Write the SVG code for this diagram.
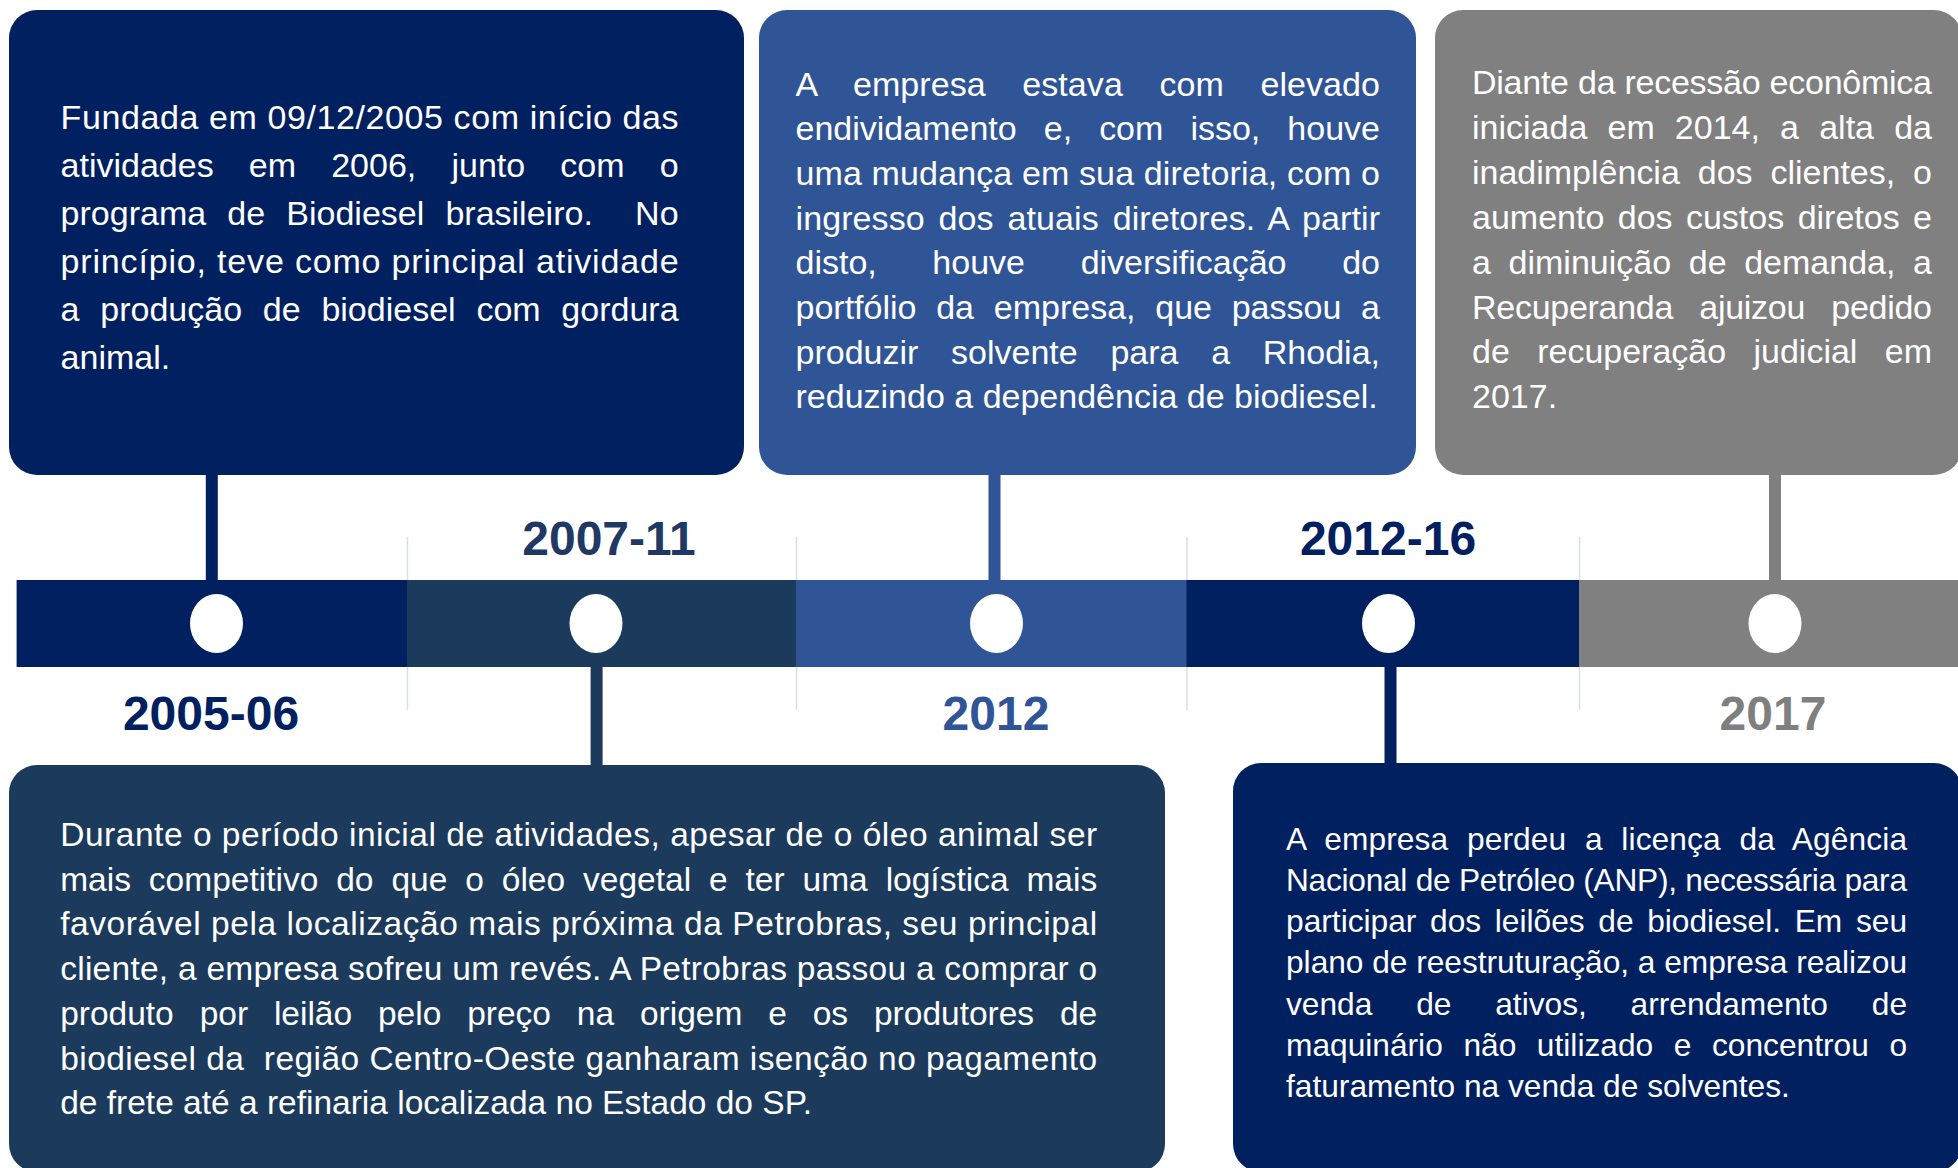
<svg xmlns="http://www.w3.org/2000/svg" width="1958" height="1168" viewBox="0 0 1958 1168">
<style>
.t{font-family:"Liberation Sans",Arial,sans-serif;font-size:34px;fill:#ffffff}
.t4{font-size:33.5px}
.t5{font-size:31.7px}
.yr{font-family:"Liberation Sans",Arial,sans-serif;font-size:48px;font-weight:bold;text-anchor:middle}
.grid{stroke:#D9DCEA;stroke-width:1.5}
.dot{fill:#ffffff}
.stem{stroke-width:12;fill:none}
</style>
<rect width="1958" height="1168" fill="#ffffff"/>

<g id="timeline">
  <line class="grid" x1="407.5" y1="537" x2="407.5" y2="710"/>
  <line class="grid" x1="796.5" y1="537" x2="796.5" y2="710"/>
  <line class="grid" x1="1187" y1="537" x2="1187" y2="710"/>
  <line class="grid" x1="1579.5" y1="537" x2="1579.5" y2="710"/>
  <rect x="16.6" y="580" width="391" height="87" fill="#002060"/>
  <rect x="407" y="580" width="389.5" height="87" fill="#1B3A5C"/>
  <rect x="796" y="580" width="391" height="87" fill="#2F5597"/>
  <rect x="1186.5" y="580" width="393" height="87" fill="#002060"/>
  <rect x="1579" y="580" width="379" height="87" fill="#808080"/>
  <ellipse class="dot" cx="216.5" cy="623.5" rx="26.5" ry="29.5"/>
  <ellipse class="dot" cx="596" cy="623.5" rx="26.5" ry="29.5"/>
  <ellipse class="dot" cx="996.5" cy="623.5" rx="26.5" ry="29.5"/>
  <ellipse class="dot" cx="1388.5" cy="623.5" rx="26.5" ry="29.5"/>
  <ellipse class="dot" cx="1775" cy="623.5" rx="26.5" ry="29.5"/>
  <text class="yr" x="211" y="730" fill="#002060">2005-06</text>
  <text class="yr" x="609" y="555" fill="#1F3864">2007-11</text>
  <text class="yr" x="996" y="730" fill="#2F5597">2012</text>
  <text class="yr" x="1388" y="555" fill="#002060">2012-16</text>
  <text class="yr" x="1773" y="730" fill="#7F7F7F">2017</text>
</g>

<g id="connectors">
  <line class="stem" x1="211.8" y1="474" x2="211.8" y2="581" stroke="#002060"/>
  <line class="stem" x1="596.6" y1="666" x2="596.6" y2="766" stroke="#1B3A5C"/>
  <line class="stem" x1="994.5" y1="474" x2="994.5" y2="581" stroke="#2F5597"/>
  <line class="stem" x1="1390.5" y1="666" x2="1390.5" y2="764" stroke="#002060"/>
  <line class="stem" x1="1775" y1="474" x2="1775" y2="581" stroke="#808080"/>
</g>

<g id="node-2005-06">
  <rect x="9" y="10" width="735" height="465" rx="28" fill="#002060"/>
  <text class="t" x="60.6" y="129.3" textLength="618" lengthAdjust="spacing">Fundada em 09/12/2005 com início das</text>
  <text class="t" x="60.6" y="177.3" word-spacing="25.7" textLength="618" lengthAdjust="spacing">atividades em 2006, junto com o</text>
  <text class="t" x="60.6" y="225.3" xml:space="preserve" word-spacing="11.7" textLength="618" lengthAdjust="spacing">programa de Biodiesel brasileiro.  No</text>
  <text class="t" x="60.6" y="273.3" textLength="618" lengthAdjust="spacing">princípio, teve como principal atividade</text>
  <text class="t" x="60.6" y="321.3" word-spacing="11.3" textLength="618" lengthAdjust="spacing">a produção de biodiesel com gordura</text>
  <text class="t" x="60.6" y="369.3">animal.</text>
</g>

<g id="node-2012">
  <rect x="759" y="10" width="657" height="465" rx="28" fill="#2F5597"/>
  <text class="t" x="795.5" y="95.7" word-spacing="27.1" textLength="584.5" lengthAdjust="spacing">A empresa estava com elevado</text>
  <text class="t" x="795.5" y="140.4" word-spacing="17.6" textLength="584.5" lengthAdjust="spacing">endividamento e, com isso, houve</text>
  <text class="t" x="795.5" y="185" textLength="584.5" lengthAdjust="spacing">uma mudança em sua diretoria, com o</text>
  <text class="t" x="795.5" y="229.7" word-spacing="4.3" textLength="584.5" lengthAdjust="spacing">ingresso dos atuais diretores. A partir</text>
  <text class="t" x="795.5" y="274.3" word-spacing="46.2" textLength="584.5" lengthAdjust="spacing">disto, houve diversificação do</text>
  <text class="t" x="795.5" y="319" word-spacing="10.3" textLength="584.5" lengthAdjust="spacing">portfólio da empresa, que passou a</text>
  <text class="t" x="795.5" y="363.7" word-spacing="23.3" textLength="584.5" lengthAdjust="spacing">produzir solvente para a Rhodia,</text>
  <text class="t" x="795.5" y="408.3">reduzindo a dependência de biodiesel.</text>
</g>

<g id="node-2017">
  <rect x="1435" y="10" width="527" height="465" rx="28" fill="#808080"/>
  <text class="t" x="1472" y="94" textLength="460" lengthAdjust="spacing">Diante da recessão econômica</text>
  <text class="t" x="1472" y="138.9" word-spacing="10.7" textLength="460" lengthAdjust="spacing">iniciada em 2014, a alta da</text>
  <text class="t" x="1472" y="183.8" word-spacing="8.5" textLength="460" lengthAdjust="spacing">inadimplência dos clientes, o</text>
  <text class="t" x="1472" y="228.7" word-spacing="4" textLength="460" lengthAdjust="spacing">aumento dos custos diretos e</text>
  <text class="t" x="1472" y="273.6" word-spacing="8.2" textLength="460" lengthAdjust="spacing">a diminuição de demanda, a</text>
  <text class="t" x="1472" y="318.5" word-spacing="17" textLength="460" lengthAdjust="spacing">Recuperanda ajuizou pedido</text>
  <text class="t" x="1472" y="363.4" word-spacing="17.9" textLength="460" lengthAdjust="spacing">de recuperação judicial em</text>
  <text class="t" x="1472" y="408.3">2017.</text>
</g>

<g id="node-2007-11">
  <rect x="9" y="765" width="1156" height="407" rx="28" fill="#1B3A5C"/>
  <text class="t t4" x="60.2" y="846" textLength="1037" lengthAdjust="spacing">Durante o período inicial de atividades, apesar de o óleo animal ser</text>
  <text class="t t4" x="60.2" y="890.7" word-spacing="8.6" textLength="1037" lengthAdjust="spacing">mais competitivo do que o óleo vegetal e ter uma logística mais</text>
  <text class="t t4" x="60.2" y="935.4" textLength="1037" lengthAdjust="spacing">favorável pela localização mais próxima da Petrobras, seu principal</text>
  <text class="t t4" x="60.2" y="980.1" textLength="1037" lengthAdjust="spacing">cliente, a empresa sofreu um revés. A Petrobras passou a comprar o</text>
  <text class="t t4" x="60.2" y="1024.8" word-spacing="16.6" textLength="1037" lengthAdjust="spacing">produto por leilão pelo preço na origem e os produtores de</text>
  <text class="t t4" x="60.2" y="1069.5" xml:space="preserve" textLength="1037" lengthAdjust="spacing">biodiesel da  região Centro-Oeste ganharam isenção no pagamento</text>
  <text class="t t4" x="60.2" y="1114.2">de frete até a refinaria localizada no Estado do SP.</text>
</g>

<g id="node-2012-16">
  <rect x="1233" y="763" width="729" height="409" rx="28" fill="#002060"/>
  <text class="t t5" x="1286" y="849.5" word-spacing="9.8" textLength="621" lengthAdjust="spacing">A empresa perdeu a licença da Agência</text>
  <text class="t t5" x="1286" y="890.8" textLength="621" lengthAdjust="spacing">Nacional de Petróleo (ANP), necessária para</text>
  <text class="t t5" x="1286" y="932.1" word-spacing="4.8" textLength="621" lengthAdjust="spacing">participar dos leilões de biodiesel. Em seu</text>
  <text class="t t5" x="1286" y="973.4" textLength="621" lengthAdjust="spacing">plano de reestruturação, a empresa realizou</text>
  <text class="t t5" x="1286" y="1014.7" word-spacing="35" textLength="621" lengthAdjust="spacing">venda de ativos, arrendamento de</text>
  <text class="t t5" x="1286" y="1056" word-spacing="11.8" textLength="621" lengthAdjust="spacing">maquinário não utilizado e concentrou o</text>
  <text class="t t5" x="1286" y="1097.3">faturamento na venda de solventes.</text>
</g>
</svg>
